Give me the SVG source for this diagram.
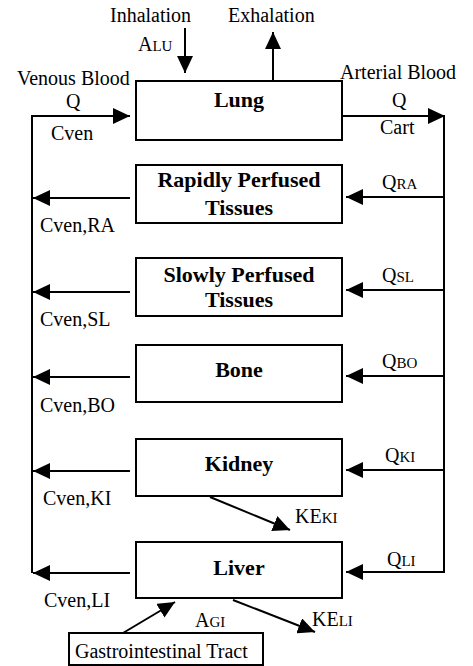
<svg xmlns="http://www.w3.org/2000/svg" width="473" height="666" viewBox="0 0 473 666">
<style>
text{font-family:"Liberation Serif","Times New Roman",serif;font-size:20px;fill:#000}
.b{font-weight:bold;font-size:22px;text-anchor:middle}
.s{font-size:15px}
.box{fill:#fff;stroke:#000;stroke-width:2}
.c{fill:none;stroke:#000;stroke-width:2}
</style>
<defs>
<marker id="ah" markerUnits="userSpaceOnUse" markerWidth="18" markerHeight="16" refX="17" refY="8" orient="auto">
<path d="M0,0 L17,8 L0,16 z" fill="#000"/>
</marker>
</defs>
<rect width="473" height="666" fill="#fff"/>
<g id="connectors">
<line class="c" x1="185" y1="28" x2="185" y2="73" marker-end="url(#ah)"/>
<line class="c" x1="273" y1="81" x2="273" y2="32" marker-end="url(#ah)"/>
<path class="c" d="M32,573 V116 H130" marker-end="url(#ah)"/>
<path class="c" d="M342,116 H445" marker-end="url(#ah)"/>
<line class="c" x1="444" y1="116" x2="444" y2="573"/>
<line class="c" x1="130" y1="198" x2="33" y2="198" marker-end="url(#ah)"/>
<line class="c" x1="130" y1="292" x2="33" y2="292" marker-end="url(#ah)"/>
<line class="c" x1="130" y1="377" x2="33" y2="377" marker-end="url(#ah)"/>
<line class="c" x1="130" y1="471" x2="33" y2="471" marker-end="url(#ah)"/>
<line class="c" x1="130" y1="573" x2="33" y2="573" marker-end="url(#ah)"/>
<line class="c" x1="444" y1="197" x2="346" y2="197" marker-end="url(#ah)"/>
<line class="c" x1="444" y1="290" x2="346" y2="290" marker-end="url(#ah)"/>
<line class="c" x1="444" y1="376" x2="346" y2="376" marker-end="url(#ah)"/>
<line class="c" x1="444" y1="470" x2="346" y2="470" marker-end="url(#ah)"/>
<line class="c" x1="444" y1="572" x2="346" y2="572" marker-end="url(#ah)"/>
<line class="c" x1="210" y1="497" x2="290" y2="530" marker-end="url(#ah)"/>
<line class="c" x1="233" y1="600" x2="315" y2="632" marker-end="url(#ah)"/>
<line class="c" x1="123" y1="633" x2="175" y2="602" marker-end="url(#ah)"/>
</g>
<g id="labels">
<text x="110" y="22">Inhalation</text>
<text x="228" y="22">Exhalation</text>
<text x="138" y="51">A<tspan class="s">LU</tspan></text>
<text x="17" y="85">Venous Blood</text>
<text x="66" y="108">Q</text>
<text x="51" y="140">Cven</text>
<text x="340" y="79">Arterial Blood</text>
<text x="392" y="107">Q</text>
<text x="380" y="134">Cart</text>
<text x="382" y="189">Q<tspan class="s">RA</tspan></text>
<text x="382" y="282">Q<tspan class="s">SL</tspan></text>
<text x="382" y="368">Q<tspan class="s">BO</tspan></text>
<text x="385" y="462">Q<tspan class="s">KI</tspan></text>
<text x="387" y="566">Q<tspan class="s">LI</tspan></text>
<text x="40" y="232">Cven,RA</text>
<text x="40" y="326">Cven,SL</text>
<text x="40" y="412">Cven,BO</text>
<text x="43" y="505">Cven,KI</text>
<text x="44" y="607">Cven,LI</text>
<text x="295" y="523">KE<tspan class="s">KI</tspan></text>
<text x="312" y="626">KE<tspan class="s">LI</tspan></text>
<text x="195" y="627">A<tspan class="s">GI</tspan></text>
</g>
<g id="lung"><rect class="box" x="136" y="81" width="206" height="59"/><text class="b" x="239" y="107">Lung</text></g>
<g id="rapidly"><rect class="box" x="136" y="165" width="206" height="58"/><text class="b" x="239" y="187">Rapidly Perfused</text><text class="b" x="239" y="215">Tissues</text></g>
<g id="slowly"><rect class="box" x="136" y="258" width="206" height="58"/><text class="b" x="239" y="282">Slowly Perfused</text><text class="b" x="239" y="307">Tissues</text></g>
<g id="bone"><rect class="box" x="136" y="345" width="206" height="57"/><text class="b" x="239" y="377">Bone</text></g>
<g id="kidney"><rect class="box" x="136" y="439" width="206" height="57"/><text class="b" x="239" y="471">Kidney</text></g>
<g id="liver"><rect class="box" x="136" y="542" width="206" height="56"/><text class="b" x="239" y="575">Liver</text></g>
<g id="gi"><rect class="box" x="69" y="633" width="194" height="32"/><text x="75" y="658">Gastrointestinal Tract</text></g>
</svg>
